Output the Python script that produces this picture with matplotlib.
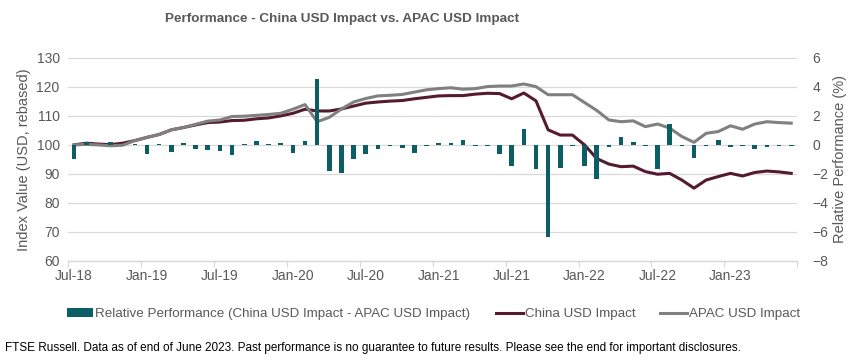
import matplotlib
matplotlib.use("Agg")
import matplotlib.pyplot as plt
import numpy as np
from matplotlib.patches import Patch
from matplotlib.lines import Line2D

plt.rcParams['font.family'] = ['Liberation Sans', 'DejaVu Sans']

months = ["Jul-18", "Aug-18", "Sep-18", "Oct-18", "Nov-18", "Dec-18",
          "Jan-19", "Feb-19", "Mar-19", "Apr-19", "May-19", "Jun-19",
          "Jul-19", "Aug-19", "Sep-19", "Oct-19", "Nov-19", "Dec-19",
          "Jan-20", "Feb-20", "Mar-20", "Apr-20", "May-20", "Jun-20",
          "Jul-20", "Aug-20", "Sep-20", "Oct-20", "Nov-20", "Dec-20",
          "Jan-21", "Feb-21", "Mar-21", "Apr-21", "May-21", "Jun-21",
          "Jul-21", "Aug-21", "Sep-21", "Oct-21", "Nov-21", "Dec-21",
          "Jan-22", "Feb-22", "Mar-22", "Apr-22", "May-22", "Jun-22",
          "Jul-22", "Aug-22", "Sep-22", "Oct-22", "Nov-22", "Dec-22",
          "Jan-23", "Feb-23", "Mar-23", "Apr-23", "May-23", "Jun-23"]

china = [100.0, 100.6, 100.3, 100.1, 100.6, 101.5, 102.6, 103.6, 105.2, 106.0,
         106.9, 107.7, 107.9, 108.4, 108.5, 109.0, 109.3, 110.0, 110.9, 112.3,
         111.7, 111.7, 112.4, 113.4, 114.4, 114.8, 115.1, 115.3, 115.9, 116.4,
         116.9, 117.0, 117.0, 117.5, 117.8, 117.7, 115.9, 117.9, 115.2, 105.2,
         103.4, 103.4, 100.0, 95.3, 93.4, 92.5, 92.7, 90.8, 89.9, 90.2,
         87.9, 85.1, 87.9, 89.1, 90.2, 89.3, 90.5, 91.0, 90.7, 90.2]

apac = [100.0, 100.2, 100.0, 99.7, 99.9, 101.5, 102.6, 103.6, 105.2, 106.0,
        107.1, 108.2, 108.6, 109.8, 109.9, 110.2, 110.5, 110.9, 112.3, 113.9,
        108.0, 109.5, 112.4, 114.8, 116.0, 116.9, 117.1, 117.4, 118.2, 119.0,
        119.4, 119.7, 119.2, 119.4, 120.1, 120.3, 120.3, 121.0, 120.1, 117.3,
        117.3, 117.3, 114.6, 111.9, 108.6, 108.0, 108.3, 106.3, 107.2, 105.8,
        102.9, 100.9, 104.0, 104.6, 106.6, 105.4, 107.2, 108.0, 107.7, 107.5]

relative = [-0.97, 0.18, 0.02, 0.20, 0.02, 0.05, -0.62, 0.07, -0.46, 0.16,
            -0.25, -0.34, -0.39, -0.67, 0.07, 0.28, 0.03, 0.14, -0.53, 0.28,
            4.55, -1.77, -1.95, -0.99, -0.60, -0.30, -0.05, -0.23, -0.53, -0.07,
            0.14, 0.16, 0.34, -0.04, -0.04, -0.60, -1.43, 1.10, -1.63, -6.37,
            -1.62, -0.05, -1.43, -2.37, -0.17, 0.53, 0.23, -0.07, -1.63, 1.45,
            -0.05, -0.87, -0.05, 0.34, -0.16, -0.10, -0.30, -0.16, -0.05, -0.05]

title = "Performance - China USD Impact vs. APAC USD Impact"
left_label = "Index Value (USD, rebased)"
right_label = "Relative Performance (%)"
bar_name = "Relative Performance (China USD Impact - APAC USD Impact)"
china_name = "China USD Impact"
apac_name = "APAC USD Impact"
footnote = ("FTSE Russell. Data as of end of June 2023. Past performance is no guarantee "
            "to future results. Please see the end for important disclosures.")

teal = "#0B5E64"
maroon = "#561A30"
grey = "#808080"
txt = "#595959"
gridc = "#D9D9D9"

x = np.arange(len(months))

fig = plt.figure(figsize=(8.5, 3.64), dpi=100)
ax = fig.add_axes([0.080, 0.283, 0.858, 0.558])
ax2 = ax.twinx()

ax.plot(x, china, color=maroon, lw=2.2, solid_joinstyle='round', zorder=3)
ax.plot(x, apac, color=grey, lw=2.2, solid_joinstyle='round', zorder=3)
ax.set_ylim(60, 130)
ax.set_yticks(np.arange(60, 131, 10))
ax.set_xlim(-0.5, len(months) - 0.5)
for v in range(70, 131, 10):
    ax.axhline(v, color=gridc, lw=0.9, zorder=0)

ax2.bar(x, relative, width=0.38, color=teal, zorder=3)
ax2.set_ylim(-8, 6)
ax2.set_yticks(np.arange(-8, 7, 2))

ax.set_xticks(x[::6])
ax.set_xticklabels(months[::6])
ax.set_xticks(np.arange(-0.5, len(months), 6), minor=True)
ax.tick_params(axis='x', which='major', length=0, pad=6, labelsize=10, labelcolor=txt)
ax.tick_params(axis='x', which='minor', length=4, color=gridc, width=0.9)
ax.tick_params(axis='y', length=0, labelsize=10, labelcolor=txt, pad=6)
ax2.tick_params(axis='y', length=0, labelsize=10, labelcolor=txt, pad=11)

for a in (ax, ax2):
    for s in ('top', 'left', 'right'):
        a.spines[s].set_visible(False)
    a.spines['bottom'].set_color(gridc)
    a.spines['bottom'].set_linewidth(0.9)

ax.set_ylabel(left_label, fontsize=10.5, color=txt, labelpad=4)
ax2.set_ylabel(right_label, fontsize=10.5, color=txt, labelpad=3)

fig.text(0.403, 0.947, title, ha='center', va='center', fontsize=9.7,
         fontweight='bold', color=txt)

handles = [Patch(facecolor=teal, edgecolor='none'),
           Line2D([0], [0], color=maroon, lw=2.2),
           Line2D([0], [0], color=grey, lw=2.2)]
fig.legend(handles, [bar_name, china_name, apac_name], ncol=3,
           loc='center', bbox_to_anchor=(0.51, 0.137), frameon=False,
           fontsize=9.6, labelcolor=txt, handlelength=2.0, handleheight=0.7,
           handletextpad=0.15, columnspacing=1.9)

fig.text(0.006, 0.044, footnote, ha='left', va='center', fontsize=8.5, color='black')

fig.savefig("out.png", dpi=100)
